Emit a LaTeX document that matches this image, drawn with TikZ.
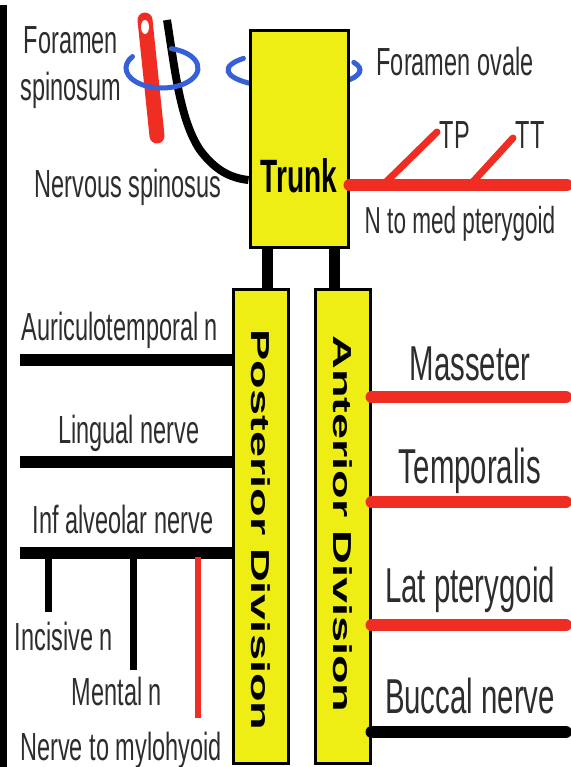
\documentclass[tikz,border=0pt]{standalone}
\usepackage{fontspec}
\setmainfont[FakeStretch=0.6]{Liberation Sans}
\newfontfamily\divfont{Liberation Sans}
\usetikzlibrary{positioning}
\definecolor{boxyellow}{RGB}{238,238,20}
\definecolor{nervered}{RGB}{240,45,35}
\definecolor{ringblue}{RGB}{55,95,215}
\definecolor{labelgray}{RGB}{45,45,45}

\tikzset{
  divbox/.style={draw=black, line width=1.5pt, fill=boxyellow, inner sep=0pt},
  lbl/.style={anchor=base, text=labelgray, inner sep=0pt},
  bignerve/.style={line width=6pt},
  smallnerve/.style={line width=3.5pt},
  ring/.style={ringblue, line width=2.5pt, line cap=round},
}

\begin{document}
\begin{tikzpicture}[x=0.5pt, y=-0.5pt, every node/.style={font=\fontsize{19.6}{23.5}\selectfont}]
        \useasboundingbox (0,0) rectangle (571,767);

        % page edge
        \draw[line width=3.5pt] (3.5,5) -- (3.5,767);

        % foramen ovale ring, behind the trunk
        \draw[ring] (294,70) ++(220:66 and 18) arc[start angle=220, end angle=-25, x radius=66, y radius=18];

        % trunk and the two divisions
        \node[divbox, minimum width=49pt, minimum height=108.5pt] (trunk) at (299,138.5) {};
        \node[lbl, font=\fontsize{23.4}{28}\selectfont\bfseries, text=black] (trunklbl) at (299,192) {Trunk};
        \node[divbox, minimum width=27.5pt, minimum height=237pt] (post) at (260.5,526) {};
        \node[divbox, minimum width=27.5pt, minimum height=237pt] (ant) at (342.5,526) {};
        \node[rotate=-90, font=\divfont\bfseries\fontsize{13}{15}\selectfont] (postlbl) at (260.5,530) {\scalebox{1.8}[1]{Posterior Division}};
        \node[rotate=-90, font=\divfont\bfseries\fontsize{13}{15}\selectfont] (antlbl) at (342.5,524) {\scalebox{1.8}[1]{Anterior Division}};
        \draw[line width=5.5pt] ([xshift=-16pt]trunk.south) -- ([xshift=-16pt]trunk.south |- post.north);
        \draw[line width=5.5pt] ([xshift=17.5pt]trunk.south) -- ([xshift=17.5pt]trunk.south |- ant.north);

        % foramen spinosum: artery, nerve, ring
        \draw[nervered, line width=7.5pt, line cap=round] (145,20) -- (157,136);
        \fill[white] (145,27) ellipse[x radius=4, y radius=7];
        \draw[line width=4pt] (167,20) .. controls (175,70) and (180,120) .. (200,150)
          .. controls (215,170) and (230,178) .. (trunk.west |- 0,180);
        \draw[ring] (162,68) ++(215:36 and 20) arc[start angle=215, end angle=-75, x radius=36, y radius=20];
        \node[align=center, text=labelgray, inner sep=0pt] (spinlbl) at (71,68) {Foramen\\spinosum};
        \node[lbl] (nslbl) at (128,197) {Nervous spinosus};
        \node[lbl] (ovlbl) at (455,75) {Foramen ovale};

        % n to med pterygoid with TP, TT
        \draw[nervered, bignerve, line cap=round] (trunk.east |- 0,185) -- (567,185);
        \draw[nervered, smallnerve, line cap=round] (383,185) -- (437,132);
        \draw[nervered, smallnerve, line cap=round] (470,185) -- (513,138);
        \node[lbl] (tplbl) at (455,148) {TP};
        \node[lbl] (ttlbl) at (530,148) {TT};
        \node[lbl, font=\fontsize{18.8}{22}\selectfont] (medlbl) at (460,233) {N to med pterygoid};

        % posterior division branches
        \foreach \y/\base/\x/\txt in {360/340/120/Auriculotemporal n, 462/443/129/Lingual nerve, 553/533/123/Inf alveolar nerve} {
          \draw[bignerve] (20,\y) -- (post.west |- 0,\y);
          \node[lbl] (pl\y) at (\x,\base) {\txt};
        }
        \draw[smallnerve] (48,553) -- (48,612);
        \draw[smallnerve] (133,553) -- (133,670);
        \draw[nervered, line width=3pt] (198,557) -- (198,718);
        \node[lbl] (inclbl) at (64,650) {Incisive n};
        \node[lbl] (menlbl) at (117,705) {Mental n};
        \node[lbl] (mylbl) at (121,760) {Nerve to mylohyoid};

        % anterior division branches
        \foreach \y/\base/\col/\txt in {397/380/nervered/Masseter, 502/483/nervered/Temporalis, 625/602/nervered/Lat pterygoid, 732/713/black/Buccal nerve} {
          \draw[\col, bignerve, line cap=round] (ant.east |- 0,\y) -- (566,\y);
          \node[lbl, font=\fontsize{24.5}{29}\selectfont] (al\y) at (470,\base) {\txt};
        }
      \end{tikzpicture}
\end{document}
